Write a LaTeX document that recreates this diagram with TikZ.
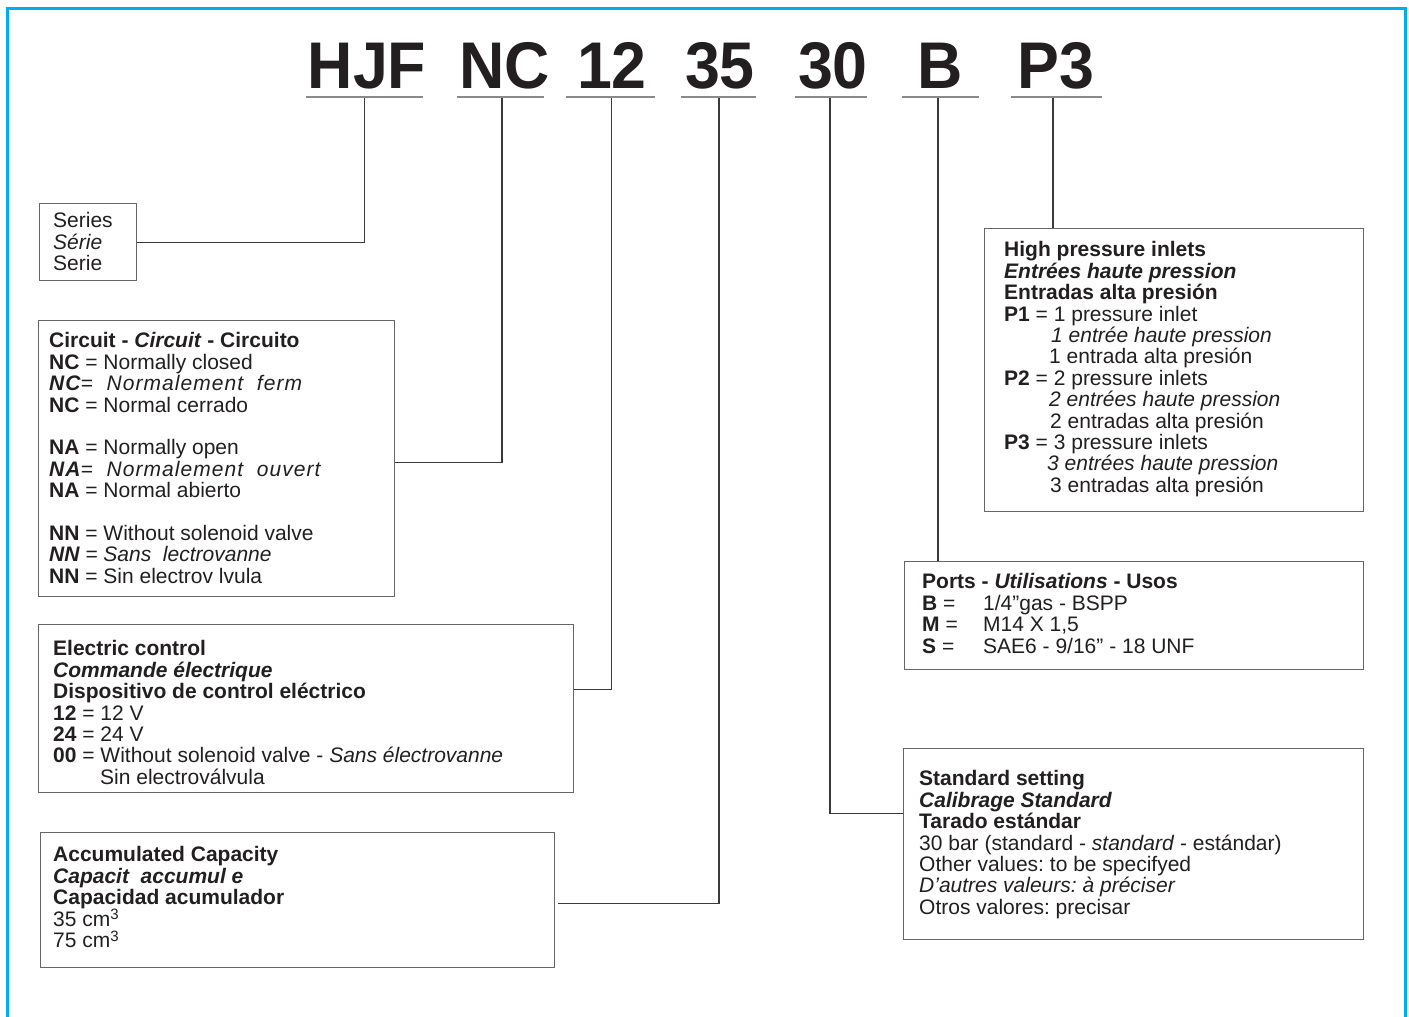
\documentclass[tikz,border=0pt]{standalone}
\usepackage{fontspec}
\setmainfont{Liberation Sans}
\frenchspacing

\definecolor{ink}{HTML}{231F20}
\definecolor{framecyan}{HTML}{00AEEF}
\definecolor{rulegray}{HTML}{8A8A8A}
\definecolor{boxgray}{HTML}{666666}
\definecolor{linkgray}{HTML}{3A3A3A}

\tikzset{
  codeletter/.style={inner sep=0pt, anchor=base, text=ink,
    font=\fontsize{66}{66}\selectfont\bfseries},
  codebar/.style={draw=rulegray, line width=2pt},
  panel/.style={draw=boxgray, line width=1.3pt, anchor=north west,
    inner sep=0pt, rectangle},
  paneltext/.style={anchor=north west, inner sep=0pt, align=left, text=ink,
    font=\fontsize{21}{21.4}\selectfont},
  link/.style={draw=linkgray, line width=1.1pt},
  framing/.style={draw=framecyan, line width=2.6pt}
}

\newcommand{\spaced}[1]{{\addfontfeature{LetterSpace=5}#1}}
\newcommand{\cubed}{\raisebox{6.5pt}{\fontsize{15}{15}\selectfont 3}}

\begin{document}
\begin{tikzpicture}[x=1pt, y=-1pt]
  \useasboundingbox (0,0) rectangle (1409,1017);
  \fill[white] (0,0) rectangle (1409,1017);

  % outer frame, open at the bottom
  \draw[framing] (7.5,1022) -- (7.5,8.5) -- (1405.5,8.5) -- (1405.5,1022);

  % ordering code letters
  \node[codeletter] (cHJF) at (367,88)  {\scalebox{0.95}[1]{HJF}};
  \node[codeletter] (cNC)  at (505,88)  {\scalebox{0.95}[1]{NC}};
  \node[codeletter] (c12)  at (612,88)  {\scalebox{0.95}[1]{12}};
  \node[codeletter] (c35)  at (720,88)  {\scalebox{0.95}[1]{35}};
  \node[codeletter] (c30)  at (833,88)  {\scalebox{0.95}[1]{30}};
  \node[codeletter] (cB)   at (940,88)  {\scalebox{0.95}[1]{B}};
  \node[codeletter] (cP)   at (1056,88) {\scalebox{0.95}[1]{P3}};

  % underlines
  \draw[codebar] (306,97) -- (423,97);
  \draw[codebar] (457,97) -- (544,97);
  \draw[codebar] (566,97) -- (655,97);
  \draw[codebar] (681,97) -- (756,97);
  \draw[codebar] (795,97) -- (867,97);
  \draw[codebar] (902,97) -- (979,97);
  \draw[codebar] (1011,97) -- (1102,97);

  % tap points on the underlines
  \coordinate (jHJF) at (364.5,98);
  \coordinate (jNC)  at (502,98);
  \coordinate (j12)  at (611.5,98);
  \coordinate (j35)  at (719,98);
  \coordinate (j30)  at (830,98);
  \coordinate (jB)   at (938,98);
  \coordinate (jP)   at (1053,98);

  % --- Series ---
  \node[panel, minimum width=97pt, minimum height=77pt] (series) at (39,203) {};
  \node[paneltext] (seriesT) at (53,212.5)
    {Series\\\textit{Série}\\Serie};

  % --- Circuit ---
  \node[panel, minimum width=356pt, minimum height=276pt] (circuit) at (38,320) {};
  \node[paneltext] (circuitT) at (49,332.5)
    {\textbf{Circuit - \textit{Circuit} - Circuito}\\
     \textbf{NC} = Normally closed\\
     {\itshape\spaced{\textbf{NC}=\ \ Normalement\ \ ferm}}\\
     \textbf{NC} = Normal cerrado\\[21.4pt]
     \textbf{NA} = Normally open\\
     {\itshape\spaced{\textbf{NA}=\ \ Normalement\ \ ouvert}}\\
     \textbf{NA} = Normal abierto\\[21.4pt]
     \textbf{NN} = Without solenoid valve\\
     {\itshape\textbf{NN} = Sans\ \ lectrovanne}\\
     \textbf{NN} = Sin electrov\ lvula};

  % --- Electric control ---
  \node[panel, minimum width=535pt, minimum height=168pt] (electric) at (38,624) {};
  \node[paneltext] (electricT) at (53,640.5)
    {\textbf{Electric control}\\
     \textbf{\textit{Commande électrique}}\\
     \textbf{Dispositivo de control eléctrico}\\
     \textbf{12} = 12 V\\
     \textbf{24} = 24 V\\
     \textbf{00} = Without solenoid valve - \textit{Sans électrovanne}\\
     \hspace*{47pt}Sin electroválvula};

  % --- Accumulated capacity ---
  \node[panel, minimum width=514pt, minimum height=135pt] (accum) at (40,832) {};
  \node[paneltext] (accumT) at (53,846.5)
    {\textbf{Accumulated Capacity}\\
     \textbf{\textit{Capacit\ \ accumul\ e}}\\
     \textbf{Capacidad acumulador}\\
     35 cm\cubed\\
     75 cm\cubed};

  % --- High pressure inlets ---
  \node[panel, minimum width=379pt, minimum height=283pt] (high) at (984,228) {};
  \node[paneltext] (highT) at (1004,241.5)
    {\textbf{High pressure inlets}\\
     \textbf{\textit{Entrées haute pression}}\\
     \textbf{Entradas alta presión}\\
     \textbf{P1} = 1 pressure inlet\\
     \hspace*{47pt}\textit{1 entrée haute pression}\\
     \hspace*{45pt}1 entrada alta presión\\
     \textbf{P2} = 2 pressure inlets\\
     \hspace*{45pt}\textit{2 entrées haute pression}\\
     \hspace*{46pt}2 entradas alta presión\\
     \textbf{P3} = 3 pressure inlets\\
     \hspace*{43pt}\textit{3 entrées haute pression}\\
     \hspace*{46pt}3 entradas alta presión};

  % --- Ports ---
  \node[panel, minimum width=459pt, minimum height=108pt] (ports) at (904,561) {};
  \node[paneltext] (portsT) at (922,573.5)
    {\textbf{Ports - \textit{Utilisations} - Usos}\\
     \makebox[61pt][l]{\textbf{B} =}1/4”gas - BSPP\\
     \makebox[61pt][l]{\textbf{M} =}M14 X 1,5\\
     \makebox[61pt][l]{\textbf{S} =}SAE6 - 9/16” - 18 UNF};

  % --- Standard setting ---
  \node[panel, minimum width=460pt, minimum height=191pt] (standard) at (903,748) {};
  \node[paneltext] (standardT) at (919,770.5)
    {\textbf{Standard setting}\\
     \textbf{\textit{Calibrage Standard}}\\
     \textbf{Tarado estándar}\\
     30 bar (standard - \textit{standard} - estándar)\\
     Other values: to be specifyed\\
     \textit{D’autres valeurs: à préciser}\\
     Otros valores: precisar};

  % connectors from the code to the panels
  \draw[link] (jHJF) |- (series.east);
  \draw[link] (jNC)  |- ([yshift=-4pt]circuit.east);
  \draw[link] (j12)  |- ([yshift=19pt]electric.east);
  \draw[link] (j35)  |- ([xshift=3pt,yshift=-3.5pt]accum.east);
  \draw[link] (j30)  |- ([yshift=30.5pt]standard.west);
  \draw[link] (jB)   -- (jB |- ports.north);
  \draw[link] (jP)   -- (jP |- high.north);
\end{tikzpicture}
\end{document}
